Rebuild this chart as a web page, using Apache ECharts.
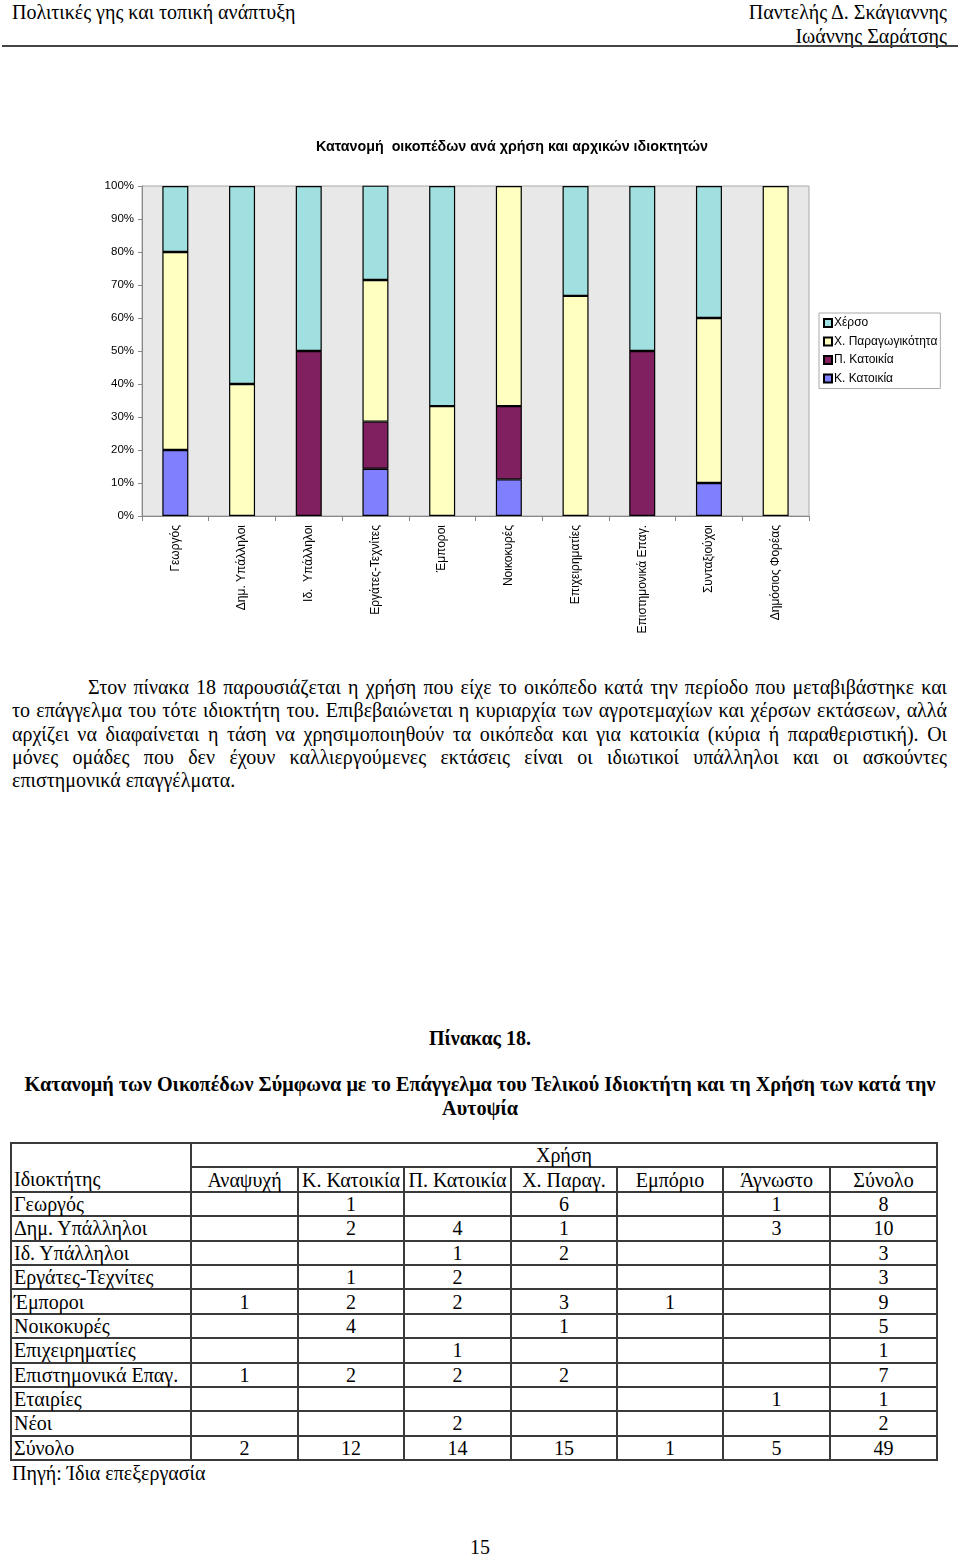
<!DOCTYPE html>
<html>
<head>
<meta charset="utf-8">
<script src="https://cdn.jsdelivr.net/npm/echarts@6/dist/echarts.min.js"></script>
<style>
  html, body { margin: 0; padding: 0; background: #fff; }
  body { width: 960px; height: 1557px; position: relative; overflow: hidden; font-family: "Liberation Serif", "DejaVu Serif", serif; color: #000; }
  .abs { position: absolute; white-space: nowrap; }
  .hdr { font-size: 20px; line-height: 24px; }
  .para { position: absolute; left: 12px; width: 935px; font-size: 20px; line-height: 23.3px; }
  .para div { text-align: justify; text-align-last: justify; white-space: nowrap; }
  .para div.last { text-align: left; text-align-last: left; }
  #tbl { position: absolute; left: 10px; top: 1142px; width: 926px; border-collapse: collapse; font-size: 20px; table-layout: fixed; }
  #tbl tr { height: 24.4px; }
  #tbl td { border: 2px solid #3a3a3a; padding: 0 2px; line-height: 20px; text-align: center; white-space: nowrap; overflow: visible; }
  #tbl td.n { text-align: left; }
</style>
</head>
<body>
<script>
// ---------------- DATA ----------------
const categories = ["Γεωργός", "Δημ. Υπάλληλοι", "Ιδ.  Υπάλληλοι", "Εργάτες-Τεχνίτες", "Έμποροι", "Νοικοκυρές", "Επιχειρηματίες", "Επιστημονικά Επαγ.", "Συνταξιούχοι", "Δημόσιος Φορέας"];
const kKatoikia = [20, null, null, 14.3, null, 11.1, null, null, 10, null];
const pKatoikia = [null, null, 50, 14.3, null, 22.2, null, 50, null, null];
const xParag    = [60, 40, null, 42.9, 33.3, 66.7, 66.7, null, 50, 100];
const xerso     = [20, 60, 50, 28.6, 66.7, null, 33.3, 50, 40, null];
const seriesNames = ["Κ. Κατοικία", "Π. Κατοικία", "Χ. Παραγωγικότητα", "Χέρσο"];
const legendOrder = ["Χέρσο", "Χ. Παραγωγικότητα", "Π. Κατοικία", "Κ. Κατοικία"];
const yTickLabels = ["0%", "10%", "20%", "30%", "40%", "50%", "60%", "70%", "80%", "90%", "100%"];
const chartTitle = "Κατανομή  οικοπέδων ανά χρήση και αρχικών ιδιοκτητών";

const tableUseHeader = "Χρήση";
const tableColumns = ["Ιδιοκτήτης", "Αναψυχή", "Κ. Κατοικία", "Π. Κατοικία", "Χ. Παραγ.", "Εμπόριο", "Άγνωστο", "Σύνολο"];
const tableOwners = ["Γεωργός", "Δημ. Υπάλληλοι", "Ιδ. Υπάλληλοι", "Εργάτες-Τεχνίτες", "Έμποροι", "Νοικοκυρές", "Επιχειρηματίες", "Επιστημονικά Επαγ.", "Εταιρίες", "Νέοι", "Σύνολο"];
const tAnapsyxi = ["", "", "", "", 1, "", "", 1, "", "", 2];
const tKKatoikia = [1, 2, "", 1, 2, 4, "", 2, "", "", 12];
const tPKatoikia = ["", 4, 1, 2, 2, "", 1, 2, "", 2, 14];
const tXParag = [6, 1, 2, "", 3, 1, "", 2, "", "", 15];
const tEmporio = ["", "", "", "", 1, "", "", "", "", "", 1];
const tAgnosto = [1, 3, "", "", "", "", "", "", 1, "", 5];
const tSynolo = [8, 10, 3, 3, 9, 5, 1, 7, 1, 2, 49];
</script>

<div class="abs hdr" style="left:12px; top:0;">Πολιτικές γης και τοπική ανάπτυξη</div>
<div class="abs hdr" style="right:13px; top:0; text-align:right;">Παντελής Δ. Σκάγιαννης<br>Ιωάννης Σαράτσης</div>
<div class="abs" style="left:2px; right:2px; top:45px; height:2px; background:#444;"></div>

<div id="chart" style="position:absolute; left:0; top:120px; width:960px; height:530px;"></div>

<div class="para" style="top:676px;">
  <div style="padding-left:76px;">Στον πίνακα 18 παρουσιάζεται η χρήση που είχε το οικόπεδο κατά την περίοδο που μεταβιβάστηκε και</div>
  <div>το επάγγελμα του τότε ιδιοκτήτη του. Επιβεβαιώνεται η κυριαρχία των αγροτεμαχίων και χέρσων εκτάσεων, αλλά</div>
  <div>αρχίζει να διαφαίνεται η τάση να χρησιμοποιηθούν τα οικόπεδα και για κατοικία (κύρια ή παραθεριστική). Οι</div>
  <div>μόνες ομάδες που δεν έχουν καλλιεργούμενες εκτάσεις είναι οι ιδιωτικοί υπάλληλοι και οι ασκούντες</div>
  <div class="last">επιστημονικά επαγγέλματα.</div>
</div>

<div class="abs" style="left:0; width:960px; top:1026px; line-height:24px; font-size:20px; font-weight:bold; text-align:center;">Πίνακας 18.</div>
<div class="abs" style="left:0; width:960px; top:1073px; line-height:23.5px; font-size:20.2px; font-weight:bold; text-align:center; white-space:normal;">Κατανομή των Οικοπέδων Σύμφωνα με το Επάγγελμα του Τελικού Ιδιοκτήτη και τη Χρήση των κατά την<br>Αυτοψία</div>

<table id="tbl"></table>

<div class="abs" style="left:12px; top:1461px; line-height:24px; font-size:20px;">Πηγή: Ίδια επεξεργασία</div>
<div class="abs" style="left:0; width:960px; top:1535px; line-height:24px; font-size:20px; text-align:center;">15</div>

<script>
// ---------------- TABLE ----------------
(function () {
  const tbl = document.getElementById('tbl');
  const widths = [180, 107, 106, 107, 106, 106, 107, 107];
  const cg = document.createElement('colgroup');
  widths.forEach(w => { const c = document.createElement('col'); c.style.width = w + 'px'; cg.appendChild(c); });
  tbl.appendChild(cg);
  let tr = document.createElement('tr');
  let td = document.createElement('td'); td.style.borderBottom = 'none'; tr.appendChild(td);
  td = document.createElement('td'); td.colSpan = 7; td.textContent = tableUseHeader; tr.appendChild(td);
  tbl.appendChild(tr);
  tr = document.createElement('tr');
  tableColumns.forEach((c, i) => {
    const d = document.createElement('td'); d.textContent = c;
    if (i === 0) { d.className = 'n'; d.style.borderTop = 'none'; }
    tr.appendChild(d);
  });
  tbl.appendChild(tr);
  const cols = [tAnapsyxi, tKKatoikia, tPKatoikia, tXParag, tEmporio, tAgnosto, tSynolo];
  tableOwners.forEach((o, r) => {
    const row = document.createElement('tr');
    const n = document.createElement('td'); n.className = 'n'; n.textContent = o; row.appendChild(n);
    cols.forEach(col => { const d = document.createElement('td'); d.textContent = col[r]; row.appendChild(d); });
    tbl.appendChild(row);
  });
})();

// ---------------- CHART ----------------
const colors = { "Κ. Κατοικία": "#8080ff", "Π. Κατοικία": "#802060", "Χ. Παραγωγικότητα": "#ffffc0", "Χέρσο": "#a0e0e0" };
const dataBy = { "Κ. Κατοικία": kKatoikia, "Π. Κατοικία": pKatoikia, "Χ. Παραγωγικότητα": xParag, "Χέρσο": xerso };
const chart = echarts.init(document.getElementById('chart'), null, { renderer: 'canvas' });
const sans = "'Liberation Sans', Arial, sans-serif";
chart.setOption({
  animation: false,
  textStyle: { fontFamily: sans },
  title: {
    text: chartTitle, left: 507, top: 15, textAlign: 'center',
    textStyle: { fontFamily: sans, fontSize: 14.3, fontWeight: 'bold', color: '#000' }
  },
  legend: {
    data: legendOrder, orient: 'vertical', left: 819, top: 193,
    itemWidth: 8, itemHeight: 8, itemGap: 6.5, icon: 'rect',
    padding: [4, 3, 4, 4],
    borderColor: '#aaa', borderWidth: 1, backgroundColor: '#fff',
    textStyle: { fontFamily: sans, fontSize: 12, color: '#000', padding: [0, 0, 0, -3] }
  },
  grid: {
    left: 142, right: 151, top: 66, bottom: 134,
    show: true, backgroundColor: '#e8e8e8', borderColor: '#a8a8a8', borderWidth: 1
  },
  xAxis: {
    type: 'category', data: categories, boundaryGap: true,
    axisLine: { lineStyle: { color: '#888', width: 1 } },
    axisTick: { show: true, length: 5, alignWithLabel: false, lineStyle: { color: '#888' } },
    axisLabel: { rotate: 90, fontSize: 12, color: '#000', fontFamily: sans, margin: 9, interval: 0 }
  },
  yAxis: {
    type: 'value', min: 0, max: 100, interval: 10,
    axisLine: { show: true, lineStyle: { color: '#888', width: 1 } },
    axisTick: { show: true, length: 4, lineStyle: { color: '#888' } },
    splitLine: { show: false },
    axisLabel: { fontSize: 11.5, color: '#000', fontFamily: sans, margin: 8,
      formatter: (v) => yTickLabels[Math.round(v / 10)] }
  },
  series: seriesNames.map(name => ({
    name, type: 'bar', stack: 'total', barWidth: 26,
    data: dataBy[name],
    itemStyle: { color: colors[name], borderColor: '#000', borderWidth: 1.2 }
  }))
});
</script>
</body>
</html>
